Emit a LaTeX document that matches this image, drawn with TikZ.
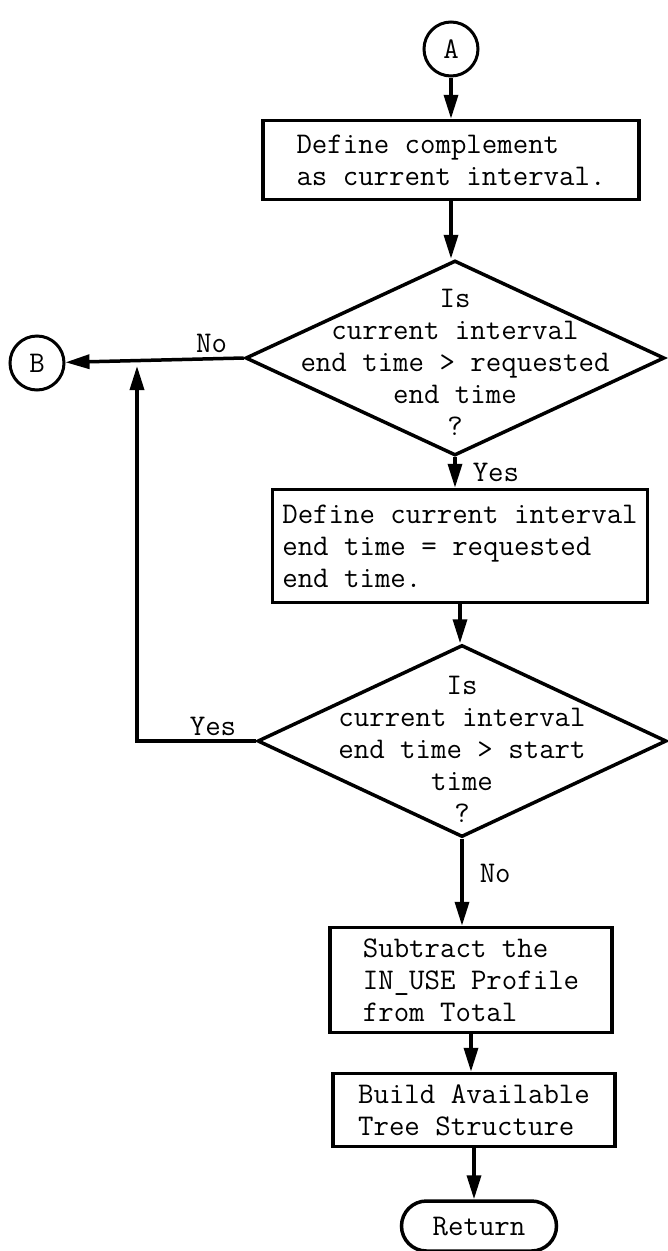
\documentclass[tikz,border=0pt]{standalone}
\usepackage{fontspec}
\usetikzlibrary{arrows.meta, shapes.geometric}

\begin{document}
\begin{tikzpicture}[
      x = 1pt, y = -1pt,
      font = \ttfamily\fontsize{30}{32}\selectfont,
      flow edge/.style={-{Triangle[length=24pt, width=14pt]}, line width=3.5pt},
      process/.style={
        draw,
        line width = 3.5pt,
        align = left,
        inner sep = 0pt,
      },
      decision/.style={
        draw,
        diamond,
        line width = 3.5pt,
        inner sep = 0pt,
      },
      connector/.style={
        draw,
        circle,
        line width = 3pt,
        minimum size = 54pt,
        inner sep = 0pt,
      },
      terminal/.style={
        draw,
        rounded corners = 25pt,
        line width = 3.5pt,
        minimum width = 155pt,
        minimum height = 50pt,
      },
      branch/.style={inner sep = 4pt},
      branch right/.style={branch, right, xshift = 12pt},
    ]
    \useasboundingbox (0, 0) rectangle (668, 1251);

    \node[connector] (circA) at (451, 49) {A};
    \node[process, minimum width = 376pt, minimum height = 79pt] (define) at (451, 160)
      {Define complement\\as current interval.};

    \node[decision, minimum width = 419pt, minimum height = 195pt,
      label={[align = center, yshift = -4pt]center:Is\\current interval\\end time > requested\\end time\\?}]
      (testend) at (455, 358) {};
    \node[connector] (circB) at (37, 363) {B};

    \node[process, minimum width = 375pt, minimum height = 113pt] (setend) at (460, 546)
      {Define current interval\\end time = requested\\end time.};

    \node[decision, minimum width = 409pt, minimum height = 192pt,
      label={[align = center, yshift = -8pt]center:Is\\current interval\\end time > start\\time\\?}]
      (teststart) at (462, 741) {};

    \node[process, minimum width = 282pt, minimum height = 105pt] (subtract) at (471, 980)
      {Subtract the\\IN\_USE Profile\\from Total};
    \node[process, minimum width = 282pt, minimum height = 73pt] (build) at (474, 1110)
      {Build Available\\Tree Structure};
    \node[terminal] (ret) at (479, 1226) {Return};

    \coordinate (join) at (137, 366);

    % main line runs straight down, the two loops go out to B on the left
    \draw[flow edge] (circA) -- (circA |- define.north);
    \draw[flow edge] (define) -- (define |- testend.north);
    \draw[flow edge] (testend.west) -- node[branch, above, pos = 0.18] {No} (circB);
    \draw[flow edge] (testend.south) -- node[branch right, pos = 0.5] {Yes} (testend.south |- setend.north);
    \draw[flow edge] (setend) -- (setend |- teststart.north);
    \draw[flow edge] (teststart.west) -| node[branch, above, pos = 0.18] {Yes} (join);
    \draw[flow edge] (teststart.south) -- node[branch right, pos = 0.4] {No} (teststart.south |- subtract.north);
    \draw[flow edge] (subtract) -- (subtract |- build.north);
    \draw[flow edge] (build) -- (build |- ret.north);
  \end{tikzpicture}
\end{document}
